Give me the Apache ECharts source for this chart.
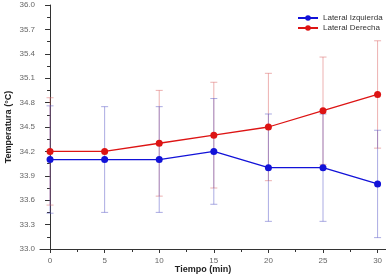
<!DOCTYPE html>
<html><head><meta charset="utf-8">
<script src="https://cdn.jsdelivr.net/npm/echarts@6/dist/echarts.min.js"></script>
<style>html,body{margin:0;padding:0;background:#fff}#c{width:386px;height:274px}</style>
</head><body><div id="c"></div>
<script>
const times = [0, 5, 10, 15, 20, 25, 30];
const izquierda = [34.1, 34.1, 34.1, 34.2, 34.0, 34.0, 33.8];
const derecha = [34.2, 34.2, 34.3, 34.4, 34.5, 34.7, 34.9];
const errIzquierda = [0.66, 0.65, 0.65, 0.65, 0.66, 0.66, 0.66];
const errDerecha = [0.66, null, 0.65, 0.65, 0.66, 0.66, 0.66];
const xTicks = [0, 5, 10, 15, 20, 25, 30];
const xMinorTicks = [2.5, 7.5, 12.5, 17.5, 22.5, 27.5];
const yTicks = [33.0, 33.3, 33.6, 33.9, 34.2, 34.5, 34.8, 35.1, 35.4, 35.7, 36.0];
const yMinorTicks = [33.15, 33.45, 33.75, 34.05, 34.35, 34.65, 34.95, 35.25, 35.55, 35.85];

const FONT = 'Liberation Sans';
function errData(vals, errs) {
  const out = [];
  times.forEach((t, i) => { if (errs[i] != null) out.push([t, vals[i], errs[i]]); });
  return out;
}
function errRender(color) {
  return function (params, api) {
    const x = api.value(0), y = api.value(1), e = api.value(2);
    const top = api.coord([x, y + e]);
    const bot = api.coord([x, y - e]);
    const cw = 3.5;
    const st = { stroke: color, lineWidth: 1 };
    return { type: 'group', children: [
      { type: 'line', shape: { x1: top[0], y1: top[1], x2: bot[0], y2: bot[1] }, style: st },
      { type: 'line', shape: { x1: top[0] - cw, y1: top[1], x2: top[0] + cw, y2: top[1] }, style: st },
      { type: 'line', shape: { x1: bot[0] - cw, y1: bot[1], x2: bot[0] + cw, y2: bot[1] }, style: st }
    ]};
  };
}
const axisColor = '#333';
const chart = echarts.init(document.getElementById('c'));
chart.setOption({
  animation: false,
  textStyle: { fontFamily: FONT },
  grid: { left: 40, right: 0, top: 5, bottom: 25, outerBoundsMode: 'none', containLabel: false },
  legend: {
    orient: 'vertical', left: 292, top: 9, itemGap: 2, itemWidth: 20, itemHeight: 7,
    textStyle: { fontSize: 8, color: '#333', fontFamily: FONT },
    data: ['Lateral Izquierda', 'Lateral Derecha']
  },
  xAxis: [{
    type: 'value', min: -0.92, max: 30.77,
    axisLine: { show: true, lineStyle: { color: axisColor, width: 1 } },
    axisTick: { show: true, customValues: xTicks, length: 4, lineStyle: { color: axisColor } },
    axisLabel: { customValues: xTicks, fontSize: 8, color: '#666', margin: 8, fontFamily: FONT },
    splitLine: { show: false },
    name: 'Tiempo (min)', nameLocation: 'middle', nameGap: 16, nameMoveOverlap: false,
    nameTextStyle: { fontSize: 9, fontWeight: 'bold', color: '#222', padding: [0, 20, 0, 0], fontFamily: FONT }
  }, {
    type: 'value', min: -0.92, max: 30.77, position: 'bottom', offset: 0,
    axisLine: { show: false },
    axisTick: { show: true, customValues: xMinorTicks, length: 3, lineStyle: { color: axisColor } },
    axisLabel: { show: false }, splitLine: { show: false }
  }],
  yAxis: [{
    type: 'value', min: 33, max: 36,
    axisLine: { show: true, lineStyle: { color: axisColor, width: 1 } },
    axisTick: { show: true, customValues: yTicks, length: 5, lineStyle: { color: axisColor } },
    axisLabel: { customValues: yTicks, fontSize: 8, color: '#666', margin: 5, fontFamily: FONT,
      formatter: v => v.toFixed(1) },
    splitLine: { show: false },
    name: 'Temperatura (°C)', nameLocation: 'middle', nameGap: 27, nameRotate: 90, nameMoveOverlap: false,
    nameTextStyle: { fontSize: 9, fontWeight: 'bold', color: '#222', fontFamily: FONT }
  }, {
    type: 'value', min: 33, max: 36, position: 'left', offset: 0,
    axisLine: { show: false },
    axisTick: { show: true, customValues: yMinorTicks, length: 3, lineStyle: { color: axisColor } },
    axisLabel: { show: false }, splitLine: { show: false }
  }],
  series: [
    { type: 'custom', name: 'errDer', xAxisIndex: 0, yAxisIndex: 0, z: 1,
      renderItem: errRender('rgba(220,100,100,0.5)'), encode: { x: 0, y: 1 },
      data: errData(derecha, errDerecha), silent: true },
    { type: 'custom', name: 'errIzq', xAxisIndex: 0, yAxisIndex: 0, z: 1,
      renderItem: errRender('rgba(90,90,200,0.5)'), encode: { x: 0, y: 1 },
      data: errData(izquierda, errIzquierda), silent: true },
    { type: 'line', name: 'Lateral Izquierda', xAxisIndex: 0, yAxisIndex: 0, z: 3,
      data: times.map((t, i) => [t, izquierda[i]]),
      symbol: 'circle', symbolSize: 7, color: '#1212d8',
      lineStyle: { width: 1.3, color: '#1212d8' }, itemStyle: { color: '#1212d8' } },
    { type: 'line', name: 'Lateral Derecha', xAxisIndex: 0, yAxisIndex: 0, z: 3,
      data: times.map((t, i) => [t, derecha[i]]),
      symbol: 'circle', symbolSize: 7, color: '#dd1414',
      lineStyle: { width: 1.3, color: '#dd1414' }, itemStyle: { color: '#dd1414' } }
  ]
});
</script></body></html>
